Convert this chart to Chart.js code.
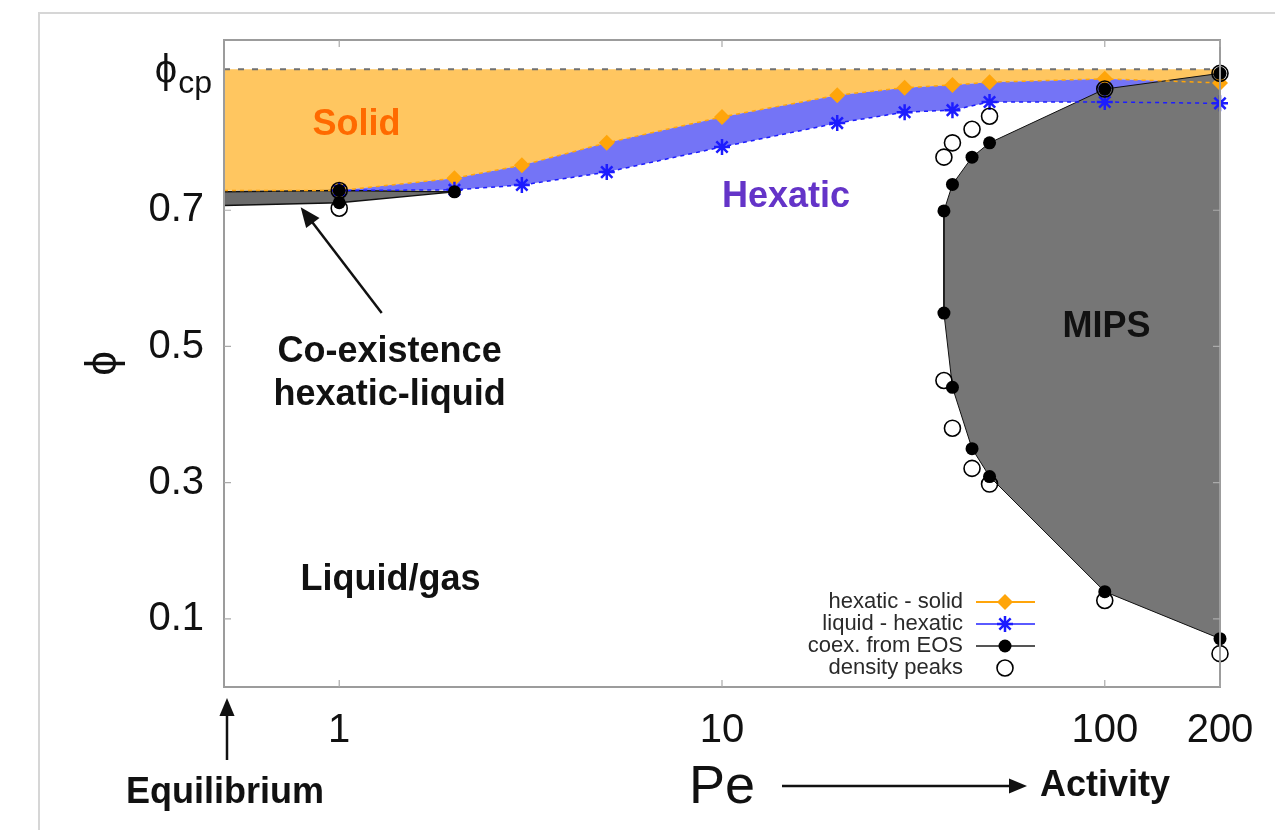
<!DOCTYPE html>
<html><head><meta charset="utf-8">
<script src="https://cdn.jsdelivr.net/npm/chart.js@4.4.1/dist/chart.umd.min.js"></script>
<style>
html,body{margin:0;padding:0;background:#fff;}
#wrap{position:relative;width:1275px;height:830px;overflow:hidden;}
#frame{position:absolute;left:38px;top:12px;width:1300px;height:900px;border-left:2px solid #d6d6d6;border-top:2px solid #d6d6d6;}
canvas{position:absolute;left:0;top:0;}
</style></head><body>
<div id="wrap"><div id="frame"></div><canvas id="c" width="1275" height="830"></canvas></div>
<script>
// ---------- data ----------
const PHI_CP = 0.9069;
const xTicks = [1, 10, 100, 200];
const yTicks = [0.1, 0.3, 0.5, 0.7];
// hexatic - solid boundary (first entry: equilibrium edge)
const hsPe  = [0.5, 1, 2, 3, 5, 10, 20, 30, 40, 50, 100, 200];
const hsPhi = [0.729, 0.729, 0.747, 0.766, 0.799, 0.837, 0.869, 0.880, 0.884, 0.888, 0.893, 0.887];
// liquid - hexatic boundary
const lhPe  = [1, 2, 3, 5, 10, 20, 30, 40, 50, 100, 200];
const lhPhi = [0.729, 0.730, 0.737, 0.756, 0.793, 0.828, 0.844, 0.847, 0.859, 0.859, 0.857];
// hexatic-liquid co-existence band (EOS)
const coexPe   = [0.5, 1, 2];
const coexHigh = [0.727, 0.729, 0.727];
const coexLow  = [0.707, 0.711, 0.727];
// MIPS binodal (EOS)
const mipsPe     = [38, 40, 45, 50, 100, 200];
const mipsDense  = [0.699, 0.738, 0.778, 0.799, 0.878, 0.901];
const mipsDilute = [0.549, 0.440, 0.350, 0.309, 0.140, 0.071];
// EOS points at low Pe
const eosPe  = [1, 1, 2];
const eosPhi = [0.729, 0.711, 0.727];
// density peaks
const dpPe  = [1, 1, 38, 40, 45, 50, 38, 40, 45, 50, 100, 100, 200, 200];
const dpPhi = [0.729, 0.703, 0.778, 0.799, 0.819, 0.838, 0.450, 0.380, 0.321, 0.298, 0.878, 0.127, 0.901, 0.049];

const legendLabels = ['hexatic - solid', 'liquid - hexatic', 'coex. from EOS', 'density peaks'];

// ---------- helpers ----------
const pts = (xs, ys) => xs.map((x, i) => ({x: x, y: ys[i]}));
const rev = a => a.slice().reverse();
const FONT = "'Liberation Sans', Arial, Helvetica, sans-serif";

const solidPoly = pts([0.5, 200], [PHI_CP, PHI_CP]).concat(rev(pts(hsPe, hsPhi)));
const hexPoly = pts(hsPe.slice(1), hsPhi.slice(1)).concat(rev(pts(lhPe, lhPhi)));
const coexPoly = pts(coexPe, coexHigh).concat(rev(pts(coexPe, coexLow)));
const mipsPoly = rev(pts(mipsPe, mipsDense)).concat(pts(mipsPe, mipsDilute));
mipsPoly.push(mipsPoly[0]);
const eosAll = pts(eosPe, eosPhi).concat(pts(mipsPe, mipsDense), pts(mipsPe, mipsDilute));

const C_OR = '#FFA50A', C_BL = '#1c1cff';

function arrow(ctx, x1, y1, x2, y2, lw, head) {
  const a = Math.atan2(y2 - y1, x2 - x1);
  ctx.save();
  ctx.strokeStyle = '#111'; ctx.fillStyle = '#111'; ctx.lineWidth = lw;
  ctx.beginPath(); ctx.moveTo(x1, y1);
  ctx.lineTo(x2 - Math.cos(a) * head * 0.8, y2 - Math.sin(a) * head * 0.8); ctx.stroke();
  ctx.beginPath(); ctx.moveTo(x2, y2);
  ctx.lineTo(x2 - head * Math.cos(a) + head * 0.42 * Math.sin(a), y2 - head * Math.sin(a) - head * 0.42 * Math.cos(a));
  ctx.lineTo(x2 - head * Math.cos(a) - head * 0.42 * Math.sin(a), y2 - head * Math.sin(a) + head * 0.42 * Math.cos(a));
  ctx.closePath(); ctx.fill();
  ctx.restore();
}

function marker(ctx, kind, x, y) {
  ctx.save();
  if (kind === 'diamond') {
    ctx.fillStyle = C_OR; ctx.beginPath();
    ctx.moveTo(x, y - 8); ctx.lineTo(x + 8, y); ctx.lineTo(x, y + 8); ctx.lineTo(x - 8, y); ctx.closePath(); ctx.fill();
  } else if (kind === 'star') {
    ctx.strokeStyle = C_BL; ctx.lineWidth = 2.5; ctx.beginPath();
    for (let k = 0; k < 4; k++) { const a = k * Math.PI / 4; ctx.moveTo(x - 8 * Math.cos(a), y - 8 * Math.sin(a)); ctx.lineTo(x + 8 * Math.cos(a), y + 8 * Math.sin(a)); }
    ctx.stroke();
  } else if (kind === 'dot') {
    ctx.fillStyle = '#000'; ctx.beginPath(); ctx.arc(x, y, 6.5, 0, Math.PI * 2); ctx.fill();
  } else {
    ctx.strokeStyle = '#000'; ctx.lineWidth = 1.6; ctx.beginPath(); ctx.arc(x, y, 8, 0, Math.PI * 2); ctx.stroke();
  }
  ctx.restore();
}

const overlay = {
  id: 'overlay',
  afterDraw(chart) {
    const ctx = chart.ctx, a = chart.chartArea, xs = chart.scales.x, ys = chart.scales.y;
    const X = v => xs.getPixelForValue(v), Y = v => ys.getPixelForValue(v);
    ctx.save();
    // frame + inward ticks
    ctx.strokeStyle = '#9c9c9c'; ctx.lineWidth = 2;
    ctx.strokeRect(a.left, a.top, a.right - a.left, a.bottom - a.top);
    ctx.lineWidth = 1.2; ctx.strokeStyle = '#aaa';
    ctx.beginPath();
    xTicks.forEach(v => { const px = X(v); ctx.moveTo(px, a.bottom); ctx.lineTo(px, a.bottom - 7); ctx.moveTo(px, a.top); ctx.lineTo(px, a.top + 7); });
    yTicks.forEach(v => { const py = Y(v); ctx.moveTo(a.left, py); ctx.lineTo(a.left + 7, py); ctx.moveTo(a.right, py); ctx.lineTo(a.right - 7, py); });
    ctx.stroke();
    // phi_cp tick label
    const pcy = Y(PHI_CP);
    ctx.fillStyle = '#111'; ctx.textBaseline = 'alphabetic'; ctx.textAlign = 'left';
    ctx.font = '40px ' + FONT; const w1 = ctx.measureText('ϕ').width;
    ctx.font = '32px ' + FONT; const w2 = ctx.measureText('cp').width;
    const x0 = 211 - w1 - w2;
    ctx.font = '40px ' + FONT; ctx.fillText('ϕ', x0, pcy + 14);
    ctx.font = '32px ' + FONT; ctx.fillText('cp', x0 + w1 + 1, pcy + 24);
    // region labels
    ctx.textAlign = 'center'; ctx.textBaseline = 'middle';
    ctx.font = 'bold 36px ' + FONT;
    ctx.fillStyle = '#ff6a00'; ctx.fillText('Solid', X(1.11), Y(0.825));
    ctx.fillStyle = '#6434c8'; ctx.fillText('Hexatic', X(14.7), Y(0.719));
    ctx.fillStyle = '#111';
    ctx.fillText('MIPS', X(101), Y(0.528));
    ctx.fillText('Co-existence', X(1.354), Y(0.4915));
    ctx.fillText('hexatic-liquid', X(1.354), Y(0.428));
    ctx.fillText('Liquid/gas', X(1.362), Y(0.1565));
    arrow(ctx, X(1.291), Y(0.549), X(0.793), Y(0.7046), 2.5, 20);
    // outside annotations
    ctx.fillText('Equilibrium', 225, 793);
    ctx.fillText('Activity', 1105, 786);
    arrow(ctx, 227, 760, 227, 698, 2.5, 18);
    arrow(ctx, 782, 786, 1027, 786, 2.5, 18);
    // legend
    ctx.font = '22px ' + FONT; ctx.textAlign = 'right'; ctx.fillStyle = '#2a2a2a';
    const rows = [602, 624, 646, 668];
    const kinds = ['diamond', 'star', 'dot', 'open'];
    const lcol = ['#FFA50A', '#5a5aff', '#555', null];
    rows.forEach((ry, i) => {
      ctx.fillText(legendLabels[i], 963, ry);
      if (lcol[i]) { ctx.strokeStyle = lcol[i]; ctx.lineWidth = 2; ctx.beginPath(); ctx.moveTo(976, ry); ctx.lineTo(1035, ry); ctx.stroke(); }
      marker(ctx, kinds[i], 1005, ry);
    });
    ctx.restore();
  }
};

Chart.defaults.font.family = FONT;
new Chart(document.getElementById('c'), {
  type: 'line',
  data: {
    datasets: [
      { label: 'density peaks', data: pts(dpPe, dpPhi), showLine: false, pointStyle: 'circle', pointRadius: 8, clip: false,
        pointBorderColor: '#000', pointBorderWidth: 1.6, pointBackgroundColor: 'rgba(0,0,0,0)', order: 1 },
      { label: 'coex. from EOS', data: eosAll, showLine: false, pointStyle: 'circle', pointRadius: 6.5, clip: false,
        pointBorderWidth: 0, pointBackgroundColor: '#000', order: 2 },
      { label: 'liquid - hexatic', data: pts(lhPe, lhPhi), borderColor: C_BL, borderWidth: 1.5, borderDash: [4, 4], clip: false,
        pointStyle: 'star', pointRadius: 8, pointBorderColor: C_BL, pointBorderWidth: 2.5, fill: false, order: 3 },
      { label: 'hexatic - solid', data: pts(hsPe, hsPhi), borderColor: C_OR, borderWidth: 1.5, borderDash: [4, 4], clip: false,
        pointStyle: 'rectRot', pointRadius: c => (c.raw && c.raw.x < 0.9 ? 0 : 8), pointBorderWidth: 0,
        pointBackgroundColor: C_OR, fill: false, order: 4 },
      { label: 'phi_cp', data: pts([0.5, 200], [PHI_CP, PHI_CP]), borderColor: '#707070', borderWidth: 2,
        borderDash: [6, 8], pointRadius: 0, fill: false, order: 5 },
      { label: 'MIPS', data: mipsPoly, borderColor: '#111', borderWidth: 1, pointRadius: 0,
        fill: 'shape', backgroundColor: '#767676', order: 6 },
      { label: 'coex band', data: coexPoly, borderColor: '#111', borderWidth: 1.5, pointRadius: 0,
        fill: 'shape', backgroundColor: '#6c6c6c', order: 7 },
      { label: 'hexatic band', data: hexPoly, borderWidth: 0, borderColor: 'rgba(0,0,0,0)', pointRadius: 0,
        fill: 'shape', backgroundColor: '#7474f6', order: 8 },
      { label: 'solid region', data: solidPoly, borderWidth: 0, borderColor: 'rgba(0,0,0,0)', pointRadius: 0,
        fill: 'shape', backgroundColor: '#FFC660', order: 9 }
    ]
  },
  options: {
    responsive: false, animation: false, events: [],
    layout: { padding: { top: 40, right: 55, left: 0, bottom: 0 } },
    elements: { line: { tension: 0 } },
    plugins: { legend: { display: false }, tooltip: { enabled: false } },
    scales: {
      x: {
        type: 'logarithmic', min: 0.5, max: 200,
        afterBuildTicks: s => { s.ticks = xTicks.map(v => ({ value: v })); },
        afterFit: s => { s.height = 143; },
        grid: { display: false }, border: { display: false },
        ticks: { callback: v => String(v), font: { size: 40 }, color: '#111', padding: 12, autoSkip: false, maxRotation: 0 },
        title: { display: true, text: 'Pe', font: { size: 54 }, color: '#111', padding: { top: 0, bottom: 9 } }
      },
      y: {
        min: 0, max: 0.95,
        afterBuildTicks: s => { s.ticks = yTicks.concat([PHI_CP]).map(v => ({ value: v })); },
        afterFit: s => { s.width = 224; },
        grid: { display: false }, border: { display: false },
        ticks: { callback: v => (v === PHI_CP ? '' : v.toFixed(1)), font: { size: 40 }, color: '#111', padding: 12 },
        title: { display: true, text: 'ϕ', font: { size: 44 }, color: '#111', padding: { top: 77, bottom: 0 } }
      }
    }
  },
  plugins: [overlay]
});
</script>
</body></html>
